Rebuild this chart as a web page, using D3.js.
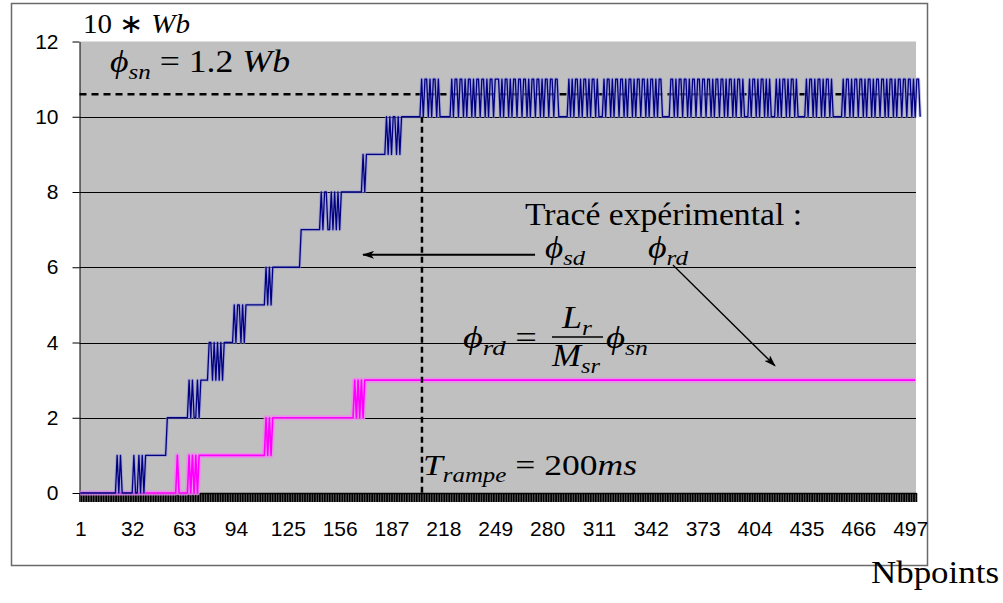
<!DOCTYPE html>
<html><head><meta charset="utf-8">
<script src="https://cdn.jsdelivr.net/npm/d3@7"></script>
<style>body{margin:0;background:#fff;} svg{display:block;} text{white-space:pre;}</style>
</head><body>
<svg id="chart" width="1003" height="603"></svg>
<script>
// ---------------- data ----------------
const categoryCount = 500;
const xTickLabels = [1,32,63,94,125,156,187,218,249,280,311,342,373,404,435,466,497];
const yTicks = [0,2,4,6,8,10,12];
const yGrid = [2,4,6,8,10];

// phi_sd (blue), points 1..204 as [value, count] runs
const phiSdRampRuns = [
  [0,22],[1,1],[0,1],[1,1],[0,7],
  [1,1],[0,2],[1,1],[0,1],[1,1],[0,1],[1,13],
  [2,13],
  [3,1],[2,1],[3,1],[2,2],[3,1],[2,1],[3,5],
  [4,2],[3,1],[4,1],[3,1],[4,1],[3,1],[4,1],[3,1],[4,6],
  [5,1],[4,1],[5,2],[4,1],[5,1],[4,1],[5,12],
  [6,1],[5,1],[6,1],[5,1],[6,17],
  [7,12],
  [8,1],[7,1],[8,2],[7,2],[8,1],[7,1],[8,1],[7,1],[8,1],[7,1],[8,13],
  [9,1],[8,1],[9,12],
  [10,1],[9,1],[10,1],[9,1],[10,2],[9,1],[10,1],[9,1],[10,12]
];
// phi_sd (blue), points 205..500: digit = value - 10
const phiSdTailBase = 10;
const phiSdTailChunks = [
  "101101011010","000000",
  "10110110101101011011010110111010110101101101101011011010110110110",
  "00000","1010110101101011010","00",
  "101101011011010110101101101011010110","0000",
  "11010110110101101101101101011011010110101101","000",
  "1011010110101","000","1010110101101","00000",
  "10110101101011010","00000",
  "10110101101101011010110110101101011011011010110"
];
// phi_rd (magenta), points 1..500 as [value, count] runs
const phiRdRuns = [
  [0,58],[1,1],[0,6],[1,1],[0,1],[1,1],[0,1],[1,1],[0,1],[1,40],
  [2,1],[1,1],[2,1],[1,1],[2,49],
  [3,1],[2,1],[3,1],[2,1],[3,1],[2,1],[3,330]
];
const fluxNominal = 10.6;      // dashed horizontal level
const rampEndPoint = 205.2;    // dashed vertical (T_rampe)
const rampTopValue = 10;

// ---------------- helpers ----------------
function expandRuns(runs){const out=[];runs.forEach(([v,n])=>{for(let k=0;k<n;k++)out.push(v);});return out;}
const blueValues = expandRuns(phiSdRampRuns).concat(
  phiSdTailChunks.join('').split('').map(c=>phiSdTailBase + (+c)));
const pinkValues = expandRuns(phiRdRuns);
const blueData = blueValues.map((v,k)=>({i:k+1,v}));
const pinkData = pinkValues.map((v,k)=>({i:k+1,v}));

const svg = d3.select('#chart');
const P = {left:79.5, right:916, top:41.5, bottom:493};
const x = d3.scaleLinear().domain([0.5, categoryCount+0.5]).range([P.left, P.right]);
const y = d3.scaleLinear().domain([0,12]).range([P.bottom, P.top]);
const crisp = v => Math.round(v)+0.5;
const sans = "'Liberation Sans'";
const serif = "'Liberation Serif'";

// outer frame
svg.append('rect').attr('x',11.5).attr('y',3.5).attr('width',916).attr('height',562)
  .attr('fill','#fff').attr('stroke','#6a6a6a').attr('stroke-width',1.5);
// plot background
svg.append('rect').attr('x',P.left+0.5).attr('y',P.top).attr('width',P.right-P.left-0.5)
  .attr('height',P.bottom-P.top).attr('fill','#c0c0c0');

// gridlines
svg.append('g').selectAll('line').data(yGrid).join('line')
  .attr('x1',P.left).attr('x2',P.right)
  .attr('y1',d=>crisp(y(d))).attr('y2',d=>crisp(y(d)))
  .attr('stroke','#000').attr('stroke-width',1);

// y axis
const yAxis = svg.append('g').attr('transform',`translate(${P.left},0)`)
  .call(d3.axisLeft(y).tickValues(yTicks).tickSize(7).tickSizeOuter(0).tickPadding(14));
yAxis.select('.domain').attr('stroke','#000');
yAxis.selectAll('.tick line').attr('stroke','#000');
yAxis.selectAll('text').style('font-family',sans).style('font-size','21px').attr('fill','#000');

// x axis: ticks between every category
const xTicksG = svg.append('g').attr('transform',`translate(0,${crisp(P.bottom)-0.5})`)
  .call(d3.axisBottom(x).tickValues(d3.range(0.5, categoryCount+1, 1)).tickSize(9).tickSizeOuter(0).tickFormat(''));
xTicksG.select('.domain').attr('stroke','#000').attr('stroke-width',1.5);
xTicksG.selectAll('.tick line').attr('stroke','#000').attr('stroke-width',1.55);
const xLab = svg.append('g').attr('transform',`translate(0,${P.bottom})`)
  .call(d3.axisBottom(x).tickValues(xTickLabels).tickSize(0).tickPadding(28));
xLab.select('.domain').remove();
xLab.selectAll('text').style('font-family',sans).style('font-size','21px').attr('fill','#000');

// dashed reference lines
svg.append('line').attr('x1',x(0.5)).attr('x2',x(categoryCount+0.5))
  .attr('y1',y(fluxNominal)).attr('y2',y(fluxNominal))
  .attr('stroke','#000').attr('stroke-width',2.5).attr('stroke-dasharray','7,5');

// series
const line = d3.line().x(d=>x(d.i)).y(d=>y(d.v));
svg.append('path').datum(pinkData).attr('d',line).attr('fill','none')
  .attr('stroke','#ee88ee').attr('stroke-width',5).attr('stroke-linejoin','round').attr('opacity',0.85);
svg.append('path').datum(pinkData).attr('d',line).attr('fill','none')
  .attr('stroke','#ff00ff').attr('stroke-width',1.6).attr('stroke-linejoin','round');
svg.append('path').datum(blueData).attr('d',line).attr('fill','none')
  .attr('stroke','#8e8ed6').attr('stroke-width',3.2).attr('stroke-linejoin','round').attr('opacity',0.6);
svg.append('path').datum(blueData).attr('d',line).attr('fill','none')
  .attr('stroke','#000080').attr('stroke-width',1.3).attr('stroke-linejoin','round');

svg.append('line').attr('x1',x(rampEndPoint)).attr('x2',x(rampEndPoint))
  .attr('y1',y(rampTopValue)).attr('y2',y(0))
  .attr('stroke','#000').attr('stroke-width',2.5).attr('stroke-dasharray','6,4');

// arrows
const defs = svg.append('defs');
defs.append('marker').attr('id','ah').attr('viewBox','0 0 12 8').attr('refX',11).attr('refY',4)
  .attr('markerWidth',12).attr('markerHeight',8).attr('markerUnits','userSpaceOnUse').attr('orient','auto')
  .append('path').attr('d','M0,0 L12,4 L0,8 L3,4 z').attr('fill','#000');
svg.append('line').attr('x1',x(272.8)).attr('y1',y(6.33)).attr('x2',x(170)).attr('y2',y(6.33))
  .attr('stroke','#000').attr('stroke-width',2).attr('marker-end','url(#ah)');
svg.append('line').attr('x1',x(355.2)).attr('y1',y(6.06)).attr('x2',x(416.2)).attr('y2',y(3.38))
  .attr('stroke','#000').attr('stroke-width',1.3).attr('marker-end','url(#ah)');

// math-like text
function mtext(x0, base, size, parts, width){
  const t = svg.append('text').attr('x',x0).attr('y',base).style('font-family',serif)
    .style('font-size',size+'px').attr('fill','#000');
  let cur = 0;
  parts.forEach(p=>{
    const off = p.s ? size*0.22 : 0;
    const ts = t.append('tspan').text(p.t).attr('dy',off-cur)
      .style('font-size', (p.s ? size*0.7 : size)+'px');
    if(p.i) ts.style('font-style','italic');
    cur = off;
  });
  if(width) t.attr('textLength',width).attr('lengthAdjust','spacingAndGlyphs');
  return t;
}
mtext(83, 33, 27, [{t:'10 ∗ '},{t:'Wb',i:1}], 107);
mtext(110, 72, 31, [{t:'ϕ',i:1},{t:'sn',i:1,s:1},{t:' = 1.2 '},{t:'Wb',i:1}], 180);
mtext(525, 225, 31, [{t:'Tracé expérimental :'}], 277);
mtext(545, 258, 31, [{t:'ϕ',i:1},{t:'sd',i:1,s:1}], 40);
mtext(648, 258, 31, [{t:'ϕ',i:1},{t:'rd',i:1,s:1}], 40);
mtext(463, 348, 31, [{t:'ϕ',i:1},{t:'rd',i:1,s:1},{t:' ='}], 74);
mtext(562, 328, 31, [{t:'L',i:1},{t:'r',i:1,s:1}], 30);
mtext(552, 366, 31, [{t:'M',i:1},{t:'sr',i:1,s:1}], 48);
svg.append('line').attr('x1',552).attr('x2',603).attr('y1',337).attr('y2',337).attr('stroke','#000').attr('stroke-width',1.5);
mtext(606, 348, 31, [{t:'ϕ',i:1},{t:'sn',i:1,s:1}], 42);
mtext(423, 475, 30, [{t:'T',i:1},{t:'rampe',i:1,s:1},{t:' = 200'},{t:'ms',i:1}], 214);
mtext(871, 583, 31, [{t:'Nbpoints'}], 128);
</script>
</body></html>
